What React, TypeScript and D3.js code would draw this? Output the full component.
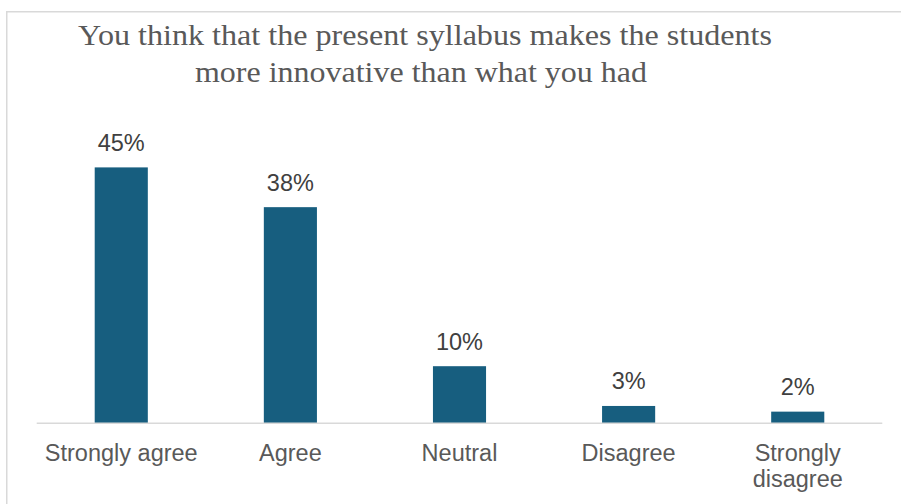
import React from "react";
import * as d3 from "d3";

const categories: string[][] = [["Strongly agree"], ["Agree"], ["Neutral"], ["Disagree"], ["Strongly", "disagree"]];
const values: number[] = [45, 38, 10, 3, 2];
const valueLabels: string[] = ["45%", "38%", "10%", "3%", "2%"];
const titleLines: string[] = ["You think that the present syllabus makes the students", "more innovative than what you had"];

const W = 901;
const H = 504;

export default function App() {
  const x = d3.scaleBand<number>().domain(values.map((_, i) => i)).range([36.7, 882.3]).paddingInner(0.686).paddingOuter(0.343);
  const y = d3.scaleLinear().domain([0, 50]).range([423, 139]);
  const sans = "'Liberation Sans', Arial, sans-serif";
  const serif = "'Liberation Serif', 'Times New Roman', serif";
  return (
    <svg width={W} height={H} style={{ position: "absolute", left: 0, top: 0, background: "#fff" }}>
      <rect x={6.75} y={11.75} width={W + 10} height={H + 10} fill="#fff" stroke="#d9d9d9" strokeWidth={1.5} />
      <g fontFamily={serif} fill="#595959" fontSize={30} textAnchor="middle">
        <text x={425} y={45} textLength={694} lengthAdjust="spacingAndGlyphs">{titleLines[0]}</text>
        <text x={421} y={82} textLength={452} lengthAdjust="spacingAndGlyphs">{titleLines[1]}</text>
      </g>
      {values.map((v, i) => (
        <rect key={i} x={x(i)} y={y(v)} width={x.bandwidth()} height={y(0) - y(v)} fill="#175e7f" />
      ))}
      <line x1={36.7} x2={882.3} y1={423.2} y2={423.2} stroke="#d9d9d9" strokeWidth={1.5} />
      <g fontFamily={sans} fontSize={23.5} fill="#404040" textAnchor="middle">
        {values.map((v, i) => (
          <text key={i} x={(x(i) as number) + x.bandwidth() / 2} y={y(v) - 16.6}>{valueLabels[i]}</text>
        ))}
      </g>
      <g fontFamily={sans} fontSize={23.5} fill="#595959" textAnchor="middle">
        {categories.map((lines, i) => (
          <text key={i} x={(x(i) as number) + x.bandwidth() / 2} y={461}>
            {lines.map((l, j) => (
              <tspan key={j} x={(x(i) as number) + x.bandwidth() / 2} dy={j === 0 ? 0 : 26}>{l}</tspan>
            ))}
          </text>
        ))}
      </g>
    </svg>
  );
}
